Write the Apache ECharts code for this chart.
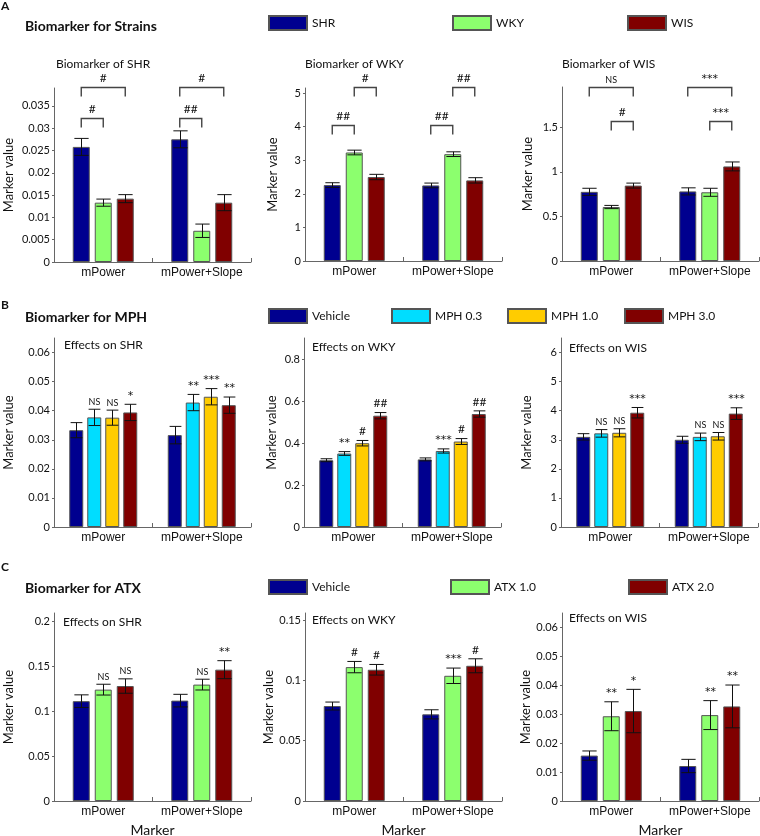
<!DOCTYPE html>
<html><head><meta charset="utf-8">
<script src="https://cdn.jsdelivr.net/npm/echarts@6/dist/echarts.min.js"></script>
<style>html,body{margin:0;padding:0;background:#fff}#c{width:760px;height:836px}</style>
</head><body><div id="c"></div>
<script>
// ---------- data ----------
const groups = ['mPower', 'mPower+Slope'];
const strainNames = ['SHR', 'WKY', 'WIS'];
const mphNames = ['Vehicle', 'MPH 0.3', 'MPH 1.0', 'MPH 3.0'];
const atxNames = ['Vehicle', 'ATX 1.0', 'ATX 2.0'];

// Row A: biomarkers for strains  (series x group)
const strainShrMean = [[0.0258, 0.0275], [0.0133, 0.0070], [0.0142, 0.0133]];
const strainShrErr  = [[0.0019, 0.0019], [0.0008, 0.0015], [0.0009, 0.0018]];
const strainShrTicks = [0, 0.005, 0.01, 0.015, 0.02, 0.025, 0.03, 0.035];
// [group, fromBar, toBar, level, label]
const strainShrBrackets = [[0, 0, 1, 0.0322, '#'], [0, 0, 2, 0.0392, '#'], [1, 0, 1, 0.0322, '##'], [1, 0, 2, 0.0392, '#']];

const strainWkyMean = [[2.26, 2.25], [3.23, 3.18], [2.50, 2.40]];
const strainWkyErr  = [[0.07, 0.07], [0.07, 0.07], [0.08, 0.08]];
const strainWkyTicks = [0, 1, 2, 3, 4, 5];
const strainWkyBrackets = [[0, 0, 1, 4.05, '##'], [0, 1, 2, 5.17, '#'], [1, 0, 1, 4.05, '##'], [1, 1, 2, 5.17, '##']];

const strainWisMean = [[0.775, 0.78], [0.605, 0.77], [0.845, 1.06]];
const strainWisErr  = [[0.04, 0.04], [0.018, 0.045], [0.028, 0.05]];
const strainWisTicks = [0, 0.5, 1, 1.5];
const strainWisBrackets = [[0, 0, 2, 1.95, 'NS'], [0, 1, 2, 1.566, '#'], [1, 0, 2, 1.95, '***'], [1, 1, 2, 1.566, '***']];

// Row B: MPH
const mphShrMean = [[0.0333, 0.0316], [0.0377, 0.0428], [0.0376, 0.0448], [0.0394, 0.0419]];
const mphShrErr  = [[0.0026, 0.0030], [0.0028, 0.0028], [0.0026, 0.0028], [0.0028, 0.0028]];
const mphShrSig  = [['', ''], ['NS', '**'], ['NS', '***'], ['*', '**']];
const mphShrTicks = [0, 0.01, 0.02, 0.03, 0.04, 0.05, 0.06];

const mphWkyMean = [[0.318, 0.322], [0.350, 0.362], [0.399, 0.407], [0.530, 0.538]];
const mphWkyErr  = [[0.007, 0.007], [0.009, 0.010], [0.013, 0.014], [0.015, 0.015]];
const mphWkySig  = [['', ''], ['**', '***'], ['#', '#'], ['##', '##']];
const mphWkyTicks = [0, 0.2, 0.4, 0.6, 0.8];

const mphWisMean = [[3.10, 3.00], [3.22, 3.10], [3.24, 3.12], [3.93, 3.90]];
const mphWisErr  = [[0.11, 0.12], [0.13, 0.13], [0.14, 0.13], [0.18, 0.20]];
const mphWisSig  = [['', ''], ['NS', 'NS'], ['NS', 'NS'], ['***', '***']];
const mphWisTicks = [0, 1, 2, 3, 4, 5, 6];

// Row C: ATX
const atxShrMean = [[0.111, 0.1116], [0.1238, 0.1294], [0.1278, 0.146]];
const atxShrErr  = [[0.007, 0.007], [0.006, 0.006], [0.008, 0.010]];
const atxShrSig  = [['', ''], ['NS', 'NS'], ['NS', '**']];
const atxShrTicks = [0, 0.05, 0.1, 0.15, 0.2];

const atxWkyMean = [[0.0788, 0.0719], [0.1111, 0.1039], [0.1089, 0.1122]];
const atxWkyErr  = [[0.0033, 0.0038], [0.0047, 0.0064], [0.0044, 0.0058]];
const atxWkySig  = [['', ''], ['#', '***'], ['#', '#']];
const atxWkyTicks = [0, 0.05, 0.1, 0.15];

const atxWisMean = [[0.0157, 0.0121], [0.0293, 0.0297], [0.0311, 0.0327]];
const atxWisErr  = [[0.0016, 0.0023], [0.0050, 0.0050], [0.0075, 0.0074]];
const atxWisSig  = [['', ''], ['**', '**'], ['*', '**']];
const atxWisTicks = [0, 0.01, 0.02, 0.03, 0.04, 0.05, 0.06];

// ---------- styles ----------
const strainColors = ['#00008F', '#8CFF6E', '#800000'];
const mphColors = ['#00008F', '#00DDFF', '#FFCC00', '#800000'];
const atxColors = ['#00008F', '#8CFF6E', '#800000'];
const AX = '#666', TXT = '#111';

const panels = [
  {title: 'Biomarker of SHR', names: strainNames, colors: strainColors, mean: strainShrMean, err: strainShrErr, brackets: strainShrBrackets, ticks: strainShrTicks, yMax: 0.039},
  {title: 'Biomarker of WKY', names: strainNames, colors: strainColors, mean: strainWkyMean, err: strainWkyErr, brackets: strainWkyBrackets, ticks: strainWkyTicks, yMax: 5.15},
  {title: 'Biomarker of WIS', names: strainNames, colors: strainColors, mean: strainWisMean, err: strainWisErr, brackets: strainWisBrackets, ticks: strainWisTicks, yMax: 1.95},
  {title: 'Effects on SHR', names: mphNames, colors: mphColors, mean: mphShrMean, err: mphShrErr, sig: mphShrSig, ticks: mphShrTicks, yMax: 0.065},
  {title: 'Effects on WKY', names: mphNames, colors: mphColors, mean: mphWkyMean, err: mphWkyErr, sig: mphWkySig, ticks: mphWkyTicks, yMax: 0.9},
  {title: 'Effects on WIS', names: mphNames, colors: mphColors, mean: mphWisMean, err: mphWisErr, sig: mphWisSig, ticks: mphWisTicks, yMax: 6.5},
  {title: 'Effects on SHR', names: atxNames, colors: atxColors, mean: atxShrMean, err: atxShrErr, sig: atxShrSig, ticks: atxShrTicks, yMax: 0.209},
  {title: 'Effects on WKY', names: atxNames, colors: atxColors, mean: atxWkyMean, err: atxWkyErr, sig: atxWkySig, ticks: atxWkyTicks, yMax: 0.156},
  {title: 'Effects on WIS', names: atxNames, colors: atxColors, mean: atxWisMean, err: atxWisErr, sig: atxWisSig, ticks: atxWisTicks, yMax: 0.065}
];

const layout = [
  {left: 54, top: 88, width: 197, height: 174, nameGap: 39, tl: 56, tt: 58, bw: 17, gap: 5},
  {left: 305, top: 88, width: 197, height: 173, nameGap: 26, tl: 305, tt: 58, bw: 17, gap: 5},
  {left: 562, top: 87, width: 197, height: 174, nameGap: 28, tl: 562, tt: 58, bw: 17, gap: 5},
  {left: 54, top: 338, width: 197, height: 189, nameGap: 39, tl: 64, tt: 339, bw: 14, gap: 4},
  {left: 304, top: 338, width: 197, height: 189, nameGap: 26, tl: 312, tt: 341, bw: 14, gap: 4},
  {left: 561, top: 338, width: 197, height: 189, nameGap: 28, tl: 569, tt: 342, bw: 14, gap: 4},
  {left: 54, top: 613, width: 197, height: 188, nameGap: 39, tl: 63, tt: 616, bw: 17, gap: 5, xName: true},
  {left: 305, top: 613, width: 197, height: 188, nameGap: 26, tl: 312, tt: 614, bw: 17, gap: 5, xName: true},
  {left: 562, top: 613, width: 197, height: 188, nameGap: 28, tl: 569, tt: 612, bw: 17, gap: 5, xName: true}
];

const legends = [
  ['SHR', 268, 15], ['WKY', 452, 15], ['WIS', 627, 15],
  ['Vehicle', 268, 308], ['MPH 0.3', 391, 308], ['MPH 1.0', 507, 308], ['MPH 3.0', 624, 308],
  ['Vehicle', 268, 579], ['ATX 1.0', 450, 579], ['ATX 2.0', 628, 579]
];

const headers = [
  ['A', 1, 0, 12], ['Biomarker for Strains', 25, 19, 14],
  ['B', 1, 299, 12], ['Biomarker for MPH', 25, 310, 14],
  ['C', 1, 561, 12], ['Biomarker for ATX', 25, 581, 14]
];

function markFont(lab) {
  if (lab === 'NS') return '9px Lato';
  if (lab.indexOf('*') >= 0) return '11px "DejaVu Sans"';
  return '12px Lato';
}

// ---------- build ----------
const grid = [], xAxis = [], yAxis = [], series = [], title = [];
headers.forEach(h => title.push({text: h[0], left: h[1], top: h[2], padding: 0,
  textStyle: {fontFamily: 'Lato', fontWeight: 'bold', fontSize: h[3], color: TXT}}));

panels.forEach((p, k) => {
  const L = layout[k];
  const n = p.names.length;
  grid.push({left: L.left, top: L.top, width: L.width, height: L.height, containLabel: false, outerBoundsMode: 'none'});
  title.push({text: p.title, left: L.tl, top: L.tt, padding: 0,
    textStyle: {fontFamily: 'Lato', fontWeight: 'normal', fontSize: 12, color: TXT}});
  xAxis.push({type: 'value', gridIndex: k, min: 0.5, max: 2.5,
    name: L.xName ? 'Marker' : '', nameLocation: 'middle', nameGap: 22,
    nameTextStyle: {fontFamily: 'Lato', fontSize: 14, color: TXT},
    splitLine: {show: false},
    axisLine: {show: true, lineStyle: {color: AX, width: 1}},
    axisTick: {show: true, inside: true, length: 4, customValues: [1.5, 2.5], lineStyle: {color: AX}},
    axisLabel: {customValues: [1, 2], formatter: v => groups[Math.round(v) - 1], margin: 5,
      fontFamily: 'Liberation Sans', fontSize: 12, color: TXT}});
  yAxis.push({type: 'value', gridIndex: k, min: 0, max: p.yMax,
    name: 'Marker value', nameLocation: 'middle', nameGap: L.nameGap,
    nameTextStyle: {fontFamily: 'Lato', fontSize: 13, color: TXT},
    splitLine: {show: false},
    axisLine: {show: true, lineStyle: {color: AX, width: 1}},
    axisTick: {show: true, inside: false, length: 2, customValues: p.ticks, lineStyle: {color: AX}},
    axisLabel: {customValues: p.ticks, formatter: v => String(v), margin: 4,
      fontFamily: 'Lato', fontSize: 11, color: TXT}});

  const gapPct = (L.gap / L.bw * 100) + '%';
  p.names.forEach((nm, i) => {
    series.push({type: 'bar', name: nm, xAxisIndex: k, yAxisIndex: k,
      barWidth: L.bw, barGap: gapPct,
      itemStyle: {color: p.colors[i], borderColor: '#555', borderWidth: 1},
      data: groups.map((g, gi) => [gi + 1, p.mean[i][gi]]), z: 2});
  });

  // error bars + significance labels
  const items = [], labels = [];
  p.names.forEach((nm, i) => groups.forEach((g, gi) => {
    items.push([gi + 1, p.mean[i][gi], p.err[i][gi], i]);
    labels.push(p.sig ? p.sig[i][gi] : '');
  }));
  const step = L.bw + L.gap;
  series.push({type: 'custom', name: 'err' + k, xAxisIndex: k, yAxisIndex: k, z: 5, clip: false,
    encode: {x: 0, y: 1},
    data: items,
    renderItem: (params, api) => {
      const gx = api.value(0), m = api.value(1), e = api.value(2), i = api.value(3);
      const off = (i - (n - 1) / 2) * step;
      const top = api.coord([gx, m + e]), bot = api.coord([gx, m - e]);
      const x = Math.round(top[0] + off) + 0.5, cw = L.bw * 0.42;
      const st = {stroke: '#111', lineWidth: 1};
      const ch = [
        {type: 'line', shape: {x1: x, y1: top[1], x2: x, y2: bot[1]}, style: st},
        {type: 'line', shape: {x1: x - cw, y1: top[1], x2: x + cw, y2: top[1]}, style: st},
        {type: 'line', shape: {x1: x - cw, y1: bot[1], x2: x + cw, y2: bot[1]}, style: st}
      ];
      const lab = labels[params.dataIndex];
      if (lab) ch.push({type: 'text', style: {text: lab, x: x, y: top[1] - 3, textAlign: 'center',
        textVerticalAlign: 'bottom', font: markFont(lab), fill: TXT}});
      return {type: 'group', children: ch};
    }});

  if (p.brackets) {
    series.push({type: 'custom', name: 'br' + k, xAxisIndex: k, yAxisIndex: k, z: 5, clip: false,
      encode: {x: 0, y: 3},
      data: p.brackets.map(b => [b[0] + 1, b[1], b[2], b[3]]),
      renderItem: (params, api) => {
        const gx = api.value(0), a = api.value(1), b = api.value(2), lv = api.value(3);
        const c = api.coord([gx, lv]);
        const xa = c[0] + (a - (n - 1) / 2) * step, xb = c[0] + (b - (n - 1) / 2) * step;
        const y = Math.round(c[1]) + 0.5, leg = 9;
        const lab = p.brackets[params.dataIndex][4];
        return {type: 'group', children: [
          {type: 'polyline', shape: {points: [[xa, y + leg], [xa, y], [xb, y], [xb, y + leg]]},
            style: {stroke: '#444', fill: null, lineWidth: 1.4}},
          {type: 'text', style: {text: lab, x: (xa + xb) / 2, y: y - 3, textAlign: 'center',
            textVerticalAlign: 'bottom', font: markFont(lab), fill: TXT}}
        ]};
      }});
  }
});

const legend = legends.map(l => ({data: [l[0]], left: l[1], top: l[2], padding: 0,
  itemWidth: 38, itemHeight: 14, itemGap: 0, icon: 'rect', selectedMode: false,
  textStyle: {fontFamily: 'Lato', fontSize: 12, color: TXT}}));

const chart = echarts.init(document.getElementById('c'), null, {renderer: 'canvas'});
chart.setOption({animation: false, backgroundColor: '#fff', title, legend, grid, xAxis, yAxis, series});
</script></body></html>
